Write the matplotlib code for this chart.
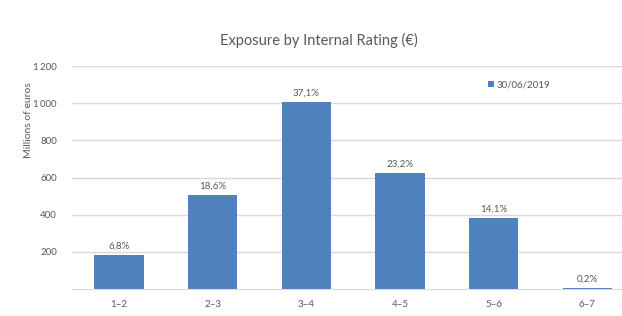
#!/usr/bin/env python3

import matplotlib
matplotlib.use("Agg")
import matplotlib.pyplot as plt
import numpy as np
from matplotlib.ticker import FuncFormatter

ratings = ["1\u20132", "2\u20133", "3\u20134", "4\u20135", "5\u20136", "6\u20137"]
exposure = [183, 505, 1008, 625, 382, 6]
shares = ["6,8%", "18,6%", "37,1%", "23,2%", "14,1%", "0,2%"]
series_name = "30/06/2019"

grey = "#595959"
bar_color = "#4f81bd"

plt.rcParams["font.family"] = ["Lato", "DejaVu Sans"]

fig = plt.figure(figsize=(6.22, 3.16), dpi=100)
ax = fig.add_axes([0.116, 0.085, 0.884, 0.706])

x = np.arange(len(ratings))
bars = ax.bar(x, exposure, 0.53, color=bar_color, label=series_name, zorder=2)

for rect, txt in zip(bars, shares):
    ax.text(rect.get_x() + rect.get_width() / 2, rect.get_height() + 22, txt,
            ha="center", va="bottom", fontsize=7, color=grey)

ax.set_xlim(-0.5, 5.37)
ax.set_ylim(0, 1200)
ax.set_yticks([200, 400, 600, 800, 1000, 1200])
ax.yaxis.set_major_formatter(FuncFormatter(lambda v, _: f"{int(v):,}".replace(",", "\u2009")))
ax.set_xticks(x)
ax.set_xticklabels(ratings)
ax.tick_params(axis="both", length=0, labelsize=7, colors=grey)
ax.tick_params(axis="x", pad=8)
ax.tick_params(axis="y", pad=11)

ax.grid(axis="y", color="#d9d9d9", linewidth=1, zorder=0)
for side in ["top", "right", "left"]:
    ax.spines[side].set_visible(False)
ax.spines["bottom"].set_color("#d9d9d9")

fig.text(0.512, 0.873, "Exposure by Internal Rating (\u20ac)", ha="center", va="center",
         fontsize=10.5, color=grey)
fig.text(0.046, 0.62, "Millions of euros", rotation=90, ha="center", va="center",
         fontsize=7.5, color=grey)

ax.legend(loc="center left", bbox_to_anchor=(0.77, 0.731), bbox_transform=fig.transFigure,
          frameon=False, fontsize=7, handlelength=0.6, handleheight=0.6,
          handletextpad=0.3, labelcolor=grey)

fig.savefig("out.png", dpi=100)
